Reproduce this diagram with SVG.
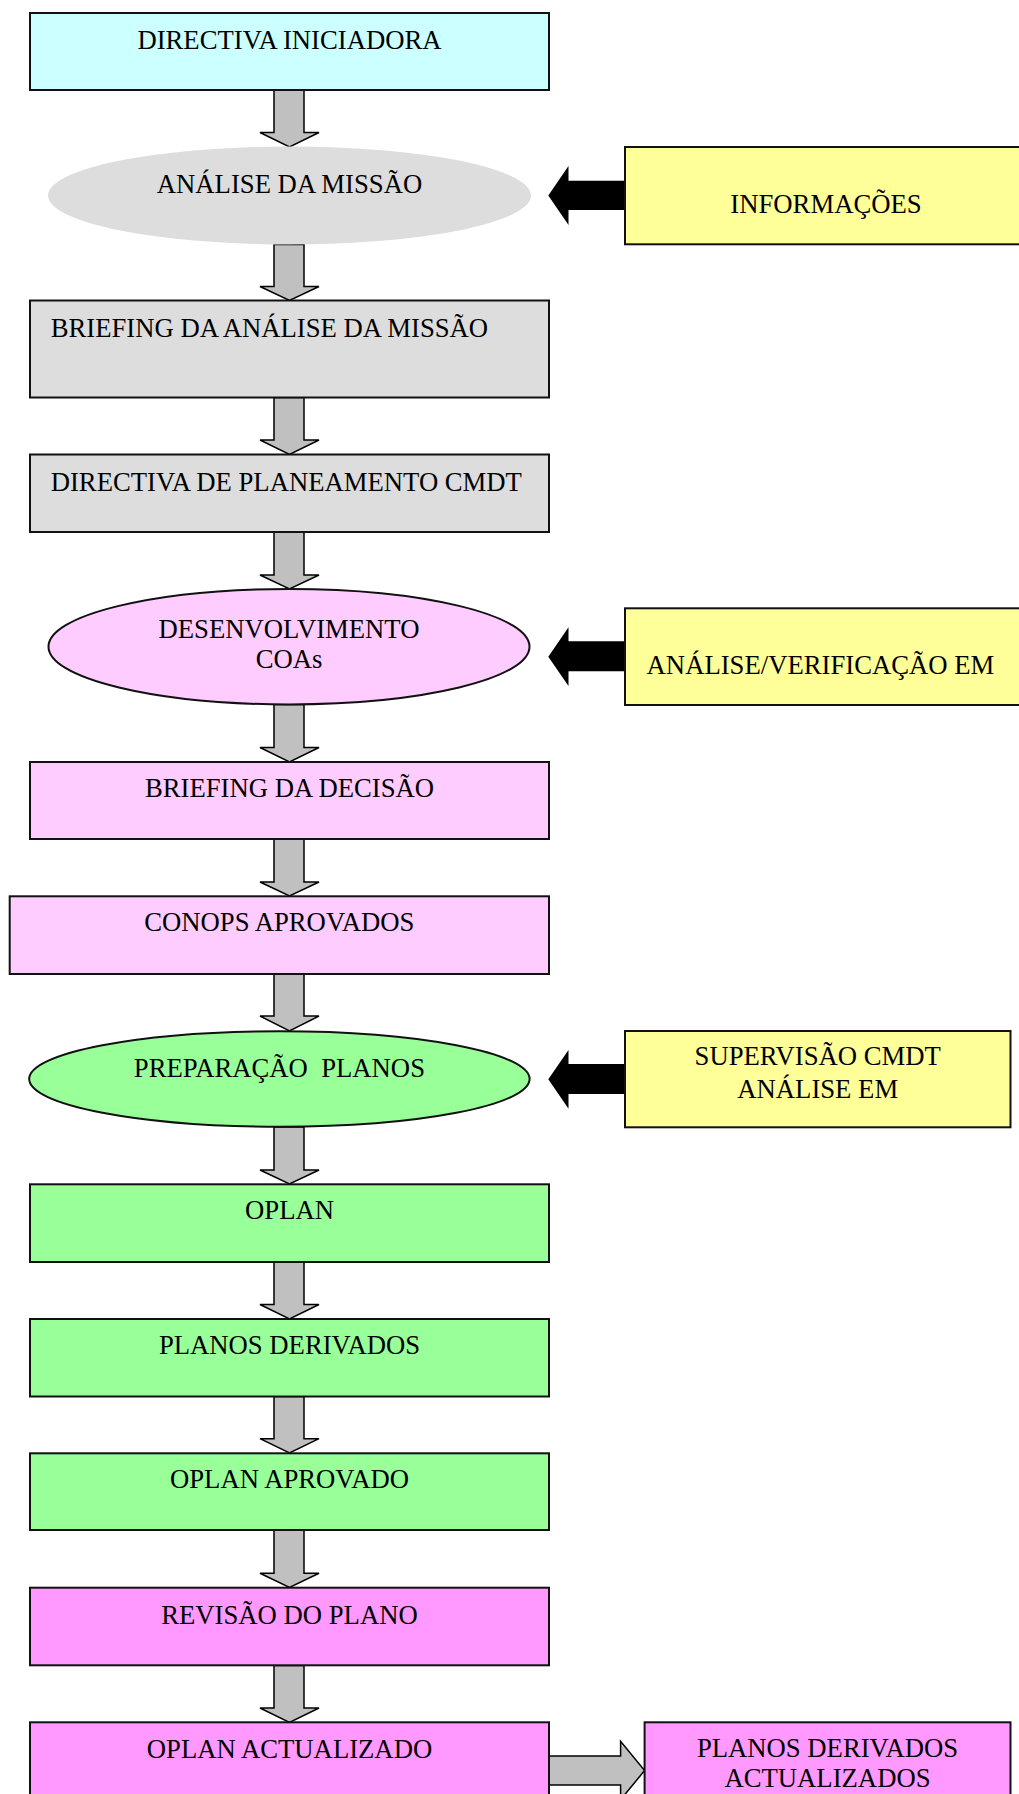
<svg xmlns="http://www.w3.org/2000/svg" width="1019" height="1794" viewBox="0 0 1019 1794">
<style>
text{font-family:"Liberation Serif","Times New Roman",serif;font-size:26.7px;fill:#000}
.c{text-anchor:middle}
.s{text-anchor:start}
.box{stroke:#111;stroke-width:2}
.ga{fill:#C0C0C0;stroke:#000;stroke-width:1.5;stroke-linejoin:miter}
.ba{fill:#000;stroke:none}
</style>
<rect width="1019" height="1794" fill="#fff"/>
<g id="connectors">
<path class="ga" d="M274,90 L304,90 L304,132.5 L319,132.5 L289.5,147 L260,132.5 L274,132.5 Z"/>
<path class="ga" d="M274,244.5 L304,244.5 L304,286.5 L319,286.5 L289.5,300.5 L260,286.5 L274,286.5 Z"/>
<path class="ga" d="M274,397.5 L304,397.5 L304,440 L319,440 L289.5,454.5 L260,440 L274,440 Z"/>
<path class="ga" d="M274,532 L304,532 L304,575 L319,575 L289.5,589 L260,575 L274,575 Z"/>
<path class="ga" d="M274,704.5 L304,704.5 L304,747.5 L319,747.5 L289.5,762 L260,747.5 L274,747.5 Z"/>
<path class="ga" d="M274,839 L304,839 L304,882 L319,882 L289.5,896 L260,882 L274,882 Z"/>
<path class="ga" d="M274,974 L304,974 L304,1016 L319,1016 L289.5,1031 L260,1016 L274,1016 Z"/>
<path class="ga" d="M274,1127 L304,1127 L304,1170 L319,1170 L289.5,1184 L260,1170 L274,1170 Z"/>
<path class="ga" d="M274,1262 L304,1262 L304,1304.5 L319,1304.5 L289.5,1319 L260,1304.5 L274,1304.5 Z"/>
<path class="ga" d="M274,1396.5 L304,1396.5 L304,1438.7 L319,1438.7 L289.5,1453 L260,1438.7 L274,1438.7 Z"/>
<path class="ga" d="M274,1530 L304,1530 L304,1573.3 L319,1573.3 L289.5,1587.5 L260,1573.3 L274,1573.3 Z"/>
<path class="ga" d="M274,1665.5 L304,1665.5 L304,1708 L319,1708 L289.5,1722.3 L260,1708 L274,1708 Z"/>
<path class="ga" d="M549,1756 L620.6,1756 L620.6,1741.3 L644.6,1770.5 L620.6,1799.7 L620.6,1785 L549,1785 Z"/>
<path class="ba" d="M625,180.7 L568.5,180.7 L568.5,166 L548.3,195.5 L568.5,225 L568.5,210 L625,210 Z"/>
<path class="ba" d="M625,641.3 L568.5,641.3 L568.5,627.3 L548.3,656.7 L568.5,686 L568.5,671.3 L625,671.3 Z"/>
<path class="ba" d="M625,1064 L568.5,1064 L568.5,1050 L548.3,1079.3 L568.5,1108.7 L568.5,1094 L625,1094 Z"/>
</g>
<g id="n1"><rect class="box" x="30" y="13" width="519" height="77" fill="#CCFFFF"/><text class="c" x="289.5" y="49">DIRECTIVA INICIADORA</text></g>
<g id="n2"><ellipse cx="289.5" cy="195.5" rx="241.5" ry="49" fill="#DDDDDD"/><text class="c" x="289.5" y="193.3">ANÁLISE DA MISSÃO</text></g>
<g id="n3"><rect class="box" x="30" y="300.5" width="519" height="97" fill="#DDDDDD"/><text class="s" x="50.7" y="336.7">BRIEFING DA ANÁLISE DA MISSÃO</text></g>
<g id="n4"><rect class="box" x="30" y="454.5" width="519" height="77.5" fill="#DDDDDD"/><text class="s" x="50.7" y="490.7">DIRECTIVA DE PLANEAMENTO CMDT</text></g>
<g id="n5"><ellipse class="box" cx="289" cy="646.7" rx="240.5" ry="57.7" fill="#FFCCFF"/><text class="c" x="289" y="637.7">DESENVOLVIMENTO</text><text class="c" x="289" y="668.3">COAs</text></g>
<g id="n6"><rect class="box" x="30" y="762" width="519" height="77" fill="#FFCCFF"/><text class="c" x="289.5" y="797.3">BRIEFING DA DECISÃO</text></g>
<g id="n7"><rect class="box" x="9.7" y="896.3" width="539.3" height="77.7" fill="#FFCCFF"/><text class="c" x="279.3" y="931">CONOPS APROVADOS</text></g>
<g id="n8"><ellipse class="box" cx="279.4" cy="1079" rx="250.2" ry="47.7" fill="#99FF99"/><text class="c" x="279.4" y="1077.3" xml:space="preserve">PREPARAÇÃO  PLANOS</text></g>
<g id="n9"><rect class="box" x="30" y="1184.3" width="519" height="77.7" fill="#99FF99"/><text class="c" x="289.5" y="1219.3">OPLAN</text></g>
<g id="n10"><rect class="box" x="30" y="1319" width="519" height="77.5" fill="#99FF99"/><text class="c" x="289.5" y="1354">PLANOS DERIVADOS</text></g>
<g id="n11"><rect class="box" x="30" y="1453.3" width="519" height="76.7" fill="#99FF99"/><text class="c" x="289.5" y="1488.3">OPLAN APROVADO</text></g>
<g id="n12"><rect class="box" x="30" y="1587.7" width="519" height="77.6" fill="#FF99FF"/><text class="c" x="289.5" y="1624">REVISÃO DO PLANO</text></g>
<g id="n13"><rect class="box" x="30" y="1722.3" width="519" height="80" fill="#FF99FF"/><text class="c" x="289.5" y="1758.3">OPLAN ACTUALIZADO</text></g>
<g id="r1"><rect class="box" x="625" y="147" width="410" height="97.3" fill="#FFFF99"/><text class="c" x="826" y="213.3">INFORMAÇÕES</text></g>
<g id="r2"><rect class="box" x="625" y="608.3" width="410" height="96.7" fill="#FFFF99"/><text class="s" x="646.6" y="674.3">ANÁLISE/VERIFICAÇÃO EM</text></g>
<g id="r3"><rect class="box" x="625" y="1031" width="385.5" height="96.3" fill="#FFFF99"/><text class="c" x="817.7" y="1065">SUPERVISÃO CMDT</text><text class="c" x="817.7" y="1097.7">ANÁLISE EM</text></g>
<g id="r4"><rect class="box" x="644.6" y="1722.3" width="365.9" height="80" fill="#FF99FF"/><text class="c" x="827.5" y="1757.3">PLANOS DERIVADOS</text><text class="c" x="827.5" y="1787.3">ACTUALIZADOS</text></g>
</svg>
